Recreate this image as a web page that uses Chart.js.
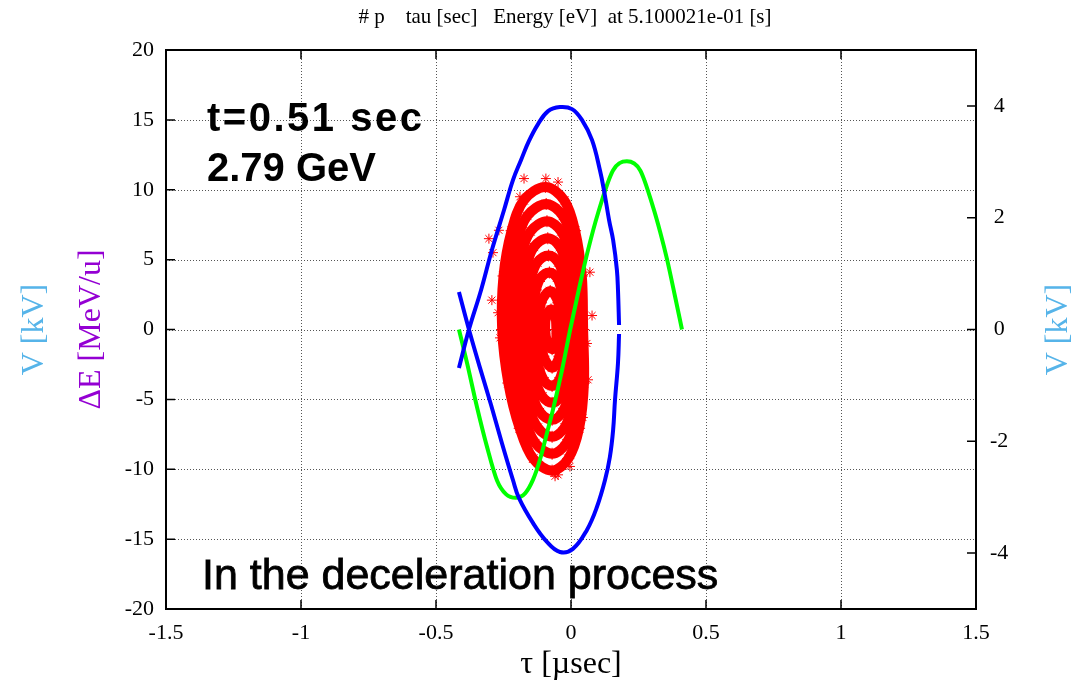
<!DOCTYPE html>
<html>
<head>
<meta charset="utf-8">
<script src="https://cdn.jsdelivr.net/npm/chart.js@4.4.1/dist/chart.umd.min.js"></script>
<style>
  html, body { margin: 0; padding: 0; background: #fff; }
  canvas { display: block; }
</style>
</head>
<body>
<canvas id="phaseChart" width="1076" height="684"></canvas>
<script>
// tick labels
const xTicks = [-1.5, -1, -0.5, 0, 0.5, 1, 1.5];
const yTicks = [-20, -15, -10, -5, 0, 5, 10, 15, 20];
const y2Ticks = [-4, -2, 0, 2, 4];

// separatrix, [tau usec, dE MeV/u]
const sepUpper = [[-0.415, -2.75], [-0.378, 0], [-0.333, 2.83], [-0.293, 5.69], [-0.248, 8.55], [-0.215, 10.69],
  [-0.185, 12.13], [-0.156, 13.48], [-0.122, 14.7], [-0.085, 15.63], [-0.041, 15.92], [0.004, 15.77], [0.041, 14.98],
  [0.078, 13.55], [0.107, 11.41], [0.122, 9.98], [0.141, 7.83], [0.156, 6.4], [0.17, 4.26], [0.174, 2.83], [0.178, 0.32]];
const sepLower = [[-0.415, 2.68], [-0.378, 0], [-0.337, -2.75], [-0.296, -5.4], [-0.256, -8.12], [-0.215, -10.77],
  [-0.193, -12.05], [-0.141, -13.84], [-0.089, -15.2], [-0.041, -15.92], [0.007, -15.7], [0.059, -14.34], [0.096, -12.7],
  [0.126, -10.77], [0.144, -9.12], [0.156, -7.19], [0.163, -5.04], [0.174, -2.4], [0.178, -0.32]];

// rf voltage (kV, right axis)
const rfTau = [-0.415, -0.385, -0.348, -0.311, -0.274, -0.24, -0.205, -0.17, -0.141, -0.115, -0.089, -0.067, -0.033,
  -0.003, 0.033, 0.063, 0.1, 0.156, 0.207, 0.256, 0.304, 0.33, 0.356, 0.385, 0.411];
const rfVolt = [0, -0.6, -1.39, -2.1, -2.7, -2.95, -3.01, -2.93, -2.69, -2.33, -1.85, -1.44, -0.72,
  0, 0.8, 1.42, 2.08, 2.85, 3.01, 2.85, 2.19, 1.75, 1.25, 0.6, 0];

// macro particles, traced as rings from outside in
const ring1 = [[0.045, 0], [0.04, 3.83], [0.015, 7.07], [-0.025, 9.24], [-0.095, 10.2], [-0.175, 9.24], [-0.22, 7.07],
  [-0.25, 3.83], [-0.255, 0], [-0.232, -3.83], [-0.19, -7.07], [-0.14, -9.24], [-0.07, -10.1], [-0.01, -9.24],
  [0.03, -7.07], [0.048, -3.83]];
const ring2 = [[0.031, 0], [0.027, 3.37], [0.005, 6.22], [-0.03, 8.13], [-0.092, 8.98], [-0.162, 8.13], [-0.202, 6.22],
  [-0.228, 3.37], [-0.233, 0], [-0.213, -3.37], [-0.176, -6.22], [-0.132, -8.13], [-0.07, -8.89], [-0.017, -8.13],
  [0.018, -6.22], [0.034, -3.37]];
const ring3 = [[0.017, 0], [0.014, 2.91], [-0.005, 5.37], [-0.036, 7.02], [-0.089, 7.75], [-0.15, 7.02], [-0.184, 5.37],
  [-0.207, 2.91], [-0.211, 0], [-0.193, -2.91], [-0.161, -5.37], [-0.123, -7.02], [-0.07, -7.68], [-0.024, -7.02],
  [0.006, -5.37], [0.02, -2.91]];
const ring4 = [[0.004, 0], [0.0, 2.45], [-0.016, 4.52], [-0.041, 5.91], [-0.086, 6.53], [-0.137, 5.91], [-0.166, 4.52],
  [-0.185, 2.45], [-0.188, 0], [-0.174, -2.45], [-0.147, -4.52], [-0.115, -5.91], [-0.07, -6.46], [-0.032, -5.91],
  [-0.006, -4.52], [0.006, -2.45]];
const ring5 = [[-0.01, 0], [-0.013, 1.99], [-0.026, 3.68], [-0.047, 4.8], [-0.083, 5.3], [-0.125, 4.8], [-0.148, 3.68],
  [-0.164, 1.99], [-0.166, 0], [-0.154, -1.99], [-0.132, -3.68], [-0.106, -4.8], [-0.07, -5.25], [-0.039, -4.8],
  [-0.018, -3.68], [-0.009, -1.99]];
const ring6 = [[-0.024, 0], [-0.026, 1.53], [-0.036, 2.83], [-0.052, 3.7], [-0.08, 4.08], [-0.112, 3.7], [-0.13, 2.83],
  [-0.142, 1.53], [-0.144, 0], [-0.135, -1.53], [-0.118, -2.83], [-0.098, -3.7], [-0.07, -4.04], [-0.046, -3.7],
  [-0.03, -2.83], [-0.023, -1.53]];
const ring7 = [[-0.039, 0], [-0.047, 1.91], [-0.077, 2.75], [-0.111, 1.91], [-0.12, 0], [-0.102, -1.91], [-0.07, -2.73],
  [-0.043, -1.91]];
const ring8 = [[-0.054, 0], [-0.058, 0.99], [-0.074, 1.43], [-0.091, 0.99], [-0.096, 0], [-0.087, -0.99], [-0.07, -1.41],
  [-0.056, -0.99]];
const strays = [[-0.174, 10.8], [-0.093, 10.8], [-0.048, 10.55], [-0.189, 9.5], [-0.189, 8.8], [-0.304, 6.5],
  [-0.267, 7.1], [-0.289, 5.5], [-0.293, 2.1], [-0.27, 1.2], [-0.263, -0.6], [0.07, 4.1], [0.078, 1.0], [0.059, -1],
  [0.063, -3.6], [0.044, -6.3], [-0.004, -9.8], [-0.048, -10.4], [-0.059, -10.5]];

const SERIF = '"Liberation Serif", "Times New Roman", serif';
const SANS = '"Liberation Sans", Arial, sans-serif';

const toPts = arr => arr.map(p => ({ x: p[0], y: p[1] }));
const loop = arr => toPts(arr.concat([arr[0]]));

const ringSets = [ring1, ring2, ring3, ring4, ring5, ring6, ring7, ring8].map(r => ({
    data: loop(r),
    showLine: true,
    borderColor: '#ff0000',
    borderWidth: 10,
    borderJoinStyle: 'round',
    borderCapStyle: 'round',
    tension: 0.35,
    pointStyle: 'star',
    pointRadius: 6,
    pointBorderColor: '#ff0000',
    pointBorderWidth: 1,
    yAxisID: 'y'
}));

const gnuFrame = {
    id: 'gnuFrame',
    beforeDatasetsDraw(chart) {
        const { ctx, chartArea: a, scales: { x, y } } = chart;
        ctx.save();
        ctx.strokeStyle = '#555';
        ctx.lineWidth = 1;
        ctx.setLineDash([1, 2]);
        ctx.beginPath();
        xTicks.slice(1, -1).forEach(v => {
            const px = Math.round(x.getPixelForValue(v)) + 0.5;
            ctx.moveTo(px, a.top); ctx.lineTo(px, a.bottom);
        });
        yTicks.slice(1, -1).forEach(v => {
            const py = Math.round(y.getPixelForValue(v)) + 0.5;
            ctx.moveTo(a.left, py); ctx.lineTo(a.right, py);
        });
        ctx.stroke();
        ctx.restore();
    },
    afterDatasetsDraw(chart) {
        const { ctx, chartArea: a, scales: { x, y, y2 } } = chart;
        ctx.save();
        ctx.strokeStyle = '#000';
        ctx.lineWidth = 1.5;
        ctx.beginPath();
        const tl = 9;
        xTicks.forEach(v => {
            const px = x.getPixelForValue(v);
            ctx.moveTo(px, a.bottom); ctx.lineTo(px, a.bottom - tl);
            ctx.moveTo(px, a.top); ctx.lineTo(px, a.top + tl);
        });
        yTicks.forEach(v => {
            const py = y.getPixelForValue(v);
            ctx.moveTo(a.left, py); ctx.lineTo(a.left + tl, py);
        });
        y2Ticks.forEach(v => {
            const py = y2.getPixelForValue(v);
            ctx.moveTo(a.right, py); ctx.lineTo(a.right - tl, py);
        });
        ctx.stroke();
        ctx.lineWidth = 2;
        ctx.strokeRect(a.left, a.top, a.right - a.left, a.bottom - a.top);
        ctx.restore();
    },
    afterDraw(chart) {
        const { ctx, chartArea: a } = chart;
        ctx.save();
        ctx.fillStyle = '#000';
        ctx.textAlign = 'center';
        ctx.textBaseline = 'middle';
        ctx.font = '21px ' + SERIF;
        ctx.fillText('# p    tau [sec]   Energy [eV]  at 5.100021e-01 [s]', 565, 17);

        ctx.font = '32px ' + SERIF;
        ctx.fillText('\u03c4 [\u00b5sec]', (a.left + a.right) / 2, 665);

        const midY = (a.top + a.bottom) / 2;
        const vert = (text, cx, color) => {
            ctx.save();
            ctx.translate(cx, midY);
            ctx.rotate(-Math.PI / 2);
            ctx.fillStyle = color;
            ctx.fillText(text, 0, 0);
            ctx.restore();
        };
        vert('V [kV]', 35, '#56b4e9');
        vert('\u0394E [MeV/u]', 92, '#9400d3');
        vert('V [kV]', 1059, '#56b4e9');

        ctx.textAlign = 'left';
        ctx.textBaseline = 'alphabetic';
        ctx.font = 'bold 40px ' + SANS;
        ctx.letterSpacing = '2.5px';
        ctx.fillText('t=0.51 sec', 207, 131);
        ctx.letterSpacing = '0px';
        ctx.fillText('2.79 GeV', 207, 181);

        ctx.font = '43px ' + SANS;
        ctx.strokeStyle = '#000';
        ctx.lineWidth = 0.8;
        ctx.fillText('In the deceleration process', 202, 589);
        ctx.strokeText('In the deceleration process', 202, 589);
        ctx.restore();
    }
};

const ctx = document.getElementById('phaseChart').getContext('2d');

new Chart(ctx, {
    type: 'scatter',
    data: {
        datasets: [
            {
                data: toPts(sepUpper),
                showLine: true,
                borderColor: '#0000ff',
                borderWidth: 4,
                tension: 0.4,
                pointRadius: 0,
                yAxisID: 'y'
            },
            {
                data: toPts(sepLower),
                showLine: true,
                borderColor: '#0000ff',
                borderWidth: 4,
                tension: 0.4,
                pointRadius: 0,
                yAxisID: 'y'
            },
            {
                data: rfTau.map((t, i) => ({ x: t, y: rfVolt[i] })),
                showLine: true,
                borderColor: '#00ff00',
                borderWidth: 4,
                cubicInterpolationMode: 'monotone',
                pointRadius: 0,
                yAxisID: 'y2'
            },
            {
                data: toPts(strays),
                pointStyle: 'star',
                pointRadius: 5,
                pointBorderColor: '#ff0000',
                pointBorderWidth: 1,
                yAxisID: 'y'
            },
            ...ringSets
        ]
    },
    options: {
        responsive: false,
        animation: false,
        devicePixelRatio: 1,
        layout: { padding: { top: 50, left: 0, right: 0, bottom: 0 } },
        plugins: {
            legend: { display: false },
            tooltip: { enabled: false }
        },
        scales: {
            x: {
                type: 'linear',
                min: -1.5,
                max: 1.5,
                afterBuildTicks: s => { s.ticks = xTicks.map(v => ({ value: v })); },
                afterFit: s => { s.height = 75; },
                grid: { display: false, drawTicks: false },
                border: { display: false },
                ticks: {
                    color: '#000',
                    padding: 11,
                    maxRotation: 0,
                    callback: v => String(v),
                    font: { family: SERIF, size: 22 }
                }
            },
            y: {
                position: 'left',
                min: -20,
                max: 20,
                afterBuildTicks: s => { s.ticks = yTicks.map(v => ({ value: v })); },
                afterFit: s => { s.width = 166; },
                grid: { display: false, drawTicks: false },
                border: { display: false },
                ticks: {
                    color: '#000',
                    padding: 12,
                    callback: v => String(v),
                    font: { family: SERIF, size: 22 }
                }
            },
            y2: {
                position: 'right',
                min: -5,
                max: 5,
                afterBuildTicks: s => { s.ticks = y2Ticks.map(v => ({ value: v })); },
                afterFit: s => { s.width = 100; },
                grid: { display: false, drawTicks: false },
                border: { display: false },
                ticks: {
                    color: '#000',
                    padding: 14,
                    crossAlign: 'center',
                    callback: v => String(v),
                    font: { family: SERIF, size: 22 }
                }
            }
        }
    },
    plugins: [gnuFrame]
});
</script>
</body>
</html>
